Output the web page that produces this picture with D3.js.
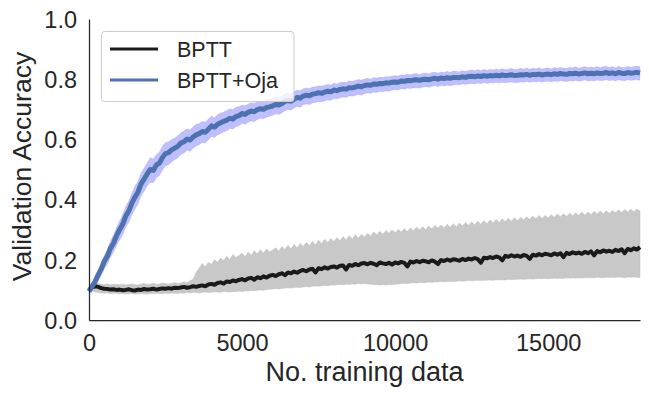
<!DOCTYPE html>
<html>
<head>
<meta charset="utf-8">
<script src="https://cdn.jsdelivr.net/npm/d3@7"></script>
<style>
  body { margin: 0; background: #fff; }
  svg { display: block; font-family: "Liberation Sans", Arial, sans-serif; }
</style>
</head>
<body>
<svg id="chart" width="649" height="396"></svg>
<script>
// one sample every 100 training examples, 0 .. 18000
var sampleStep = 100;

// BPTT+Oja: mean, upper and lower edge of the shaded band
var ojaMean = [
  .095,.112,.128,.150,.170,.195,.212,.238,.255,.280,
  .300,.318,.345,.362,.388,.408,.425,.452,.468,.485,
  .500,.497,.515,.521,.540,.553,.556,.565,.571,.577,
  .588,.592,.601,.598,.608,.615,.619,.626,.624,.634,
  .645,.641,.650,.655,.660,.664,.670,.668,.676,.679,
  .686,.683,.690,.694,.692,.699,.702,.700,.706,.708,
  .711,.716,.714,.719,.726,.729,.727,.734,.739,.737,
  .744,.747,.745,.750,.752,.755,.753,.757,.760,.758,
  .764,.762,.766,.768,.767,.772,.771,.774,.777,.775,
  .779,.781,.780,.784,.783,.786,.785,.788,.787,.790,
  .791,.790,.794,.793,.796,.795,.797,.798,.796,.799,
  .800,.798,.801,.803,.800,.804,.802,.805,.803,.806,
  .806,.805,.808,.806,.809,.810,.808,.811,.809,.812,
  .810,.812,.811,.813,.811,.814,.812,.813,.815,.812,
  .813,.815,.814,.816,.813,.816,.815,.817,.814,.816,
  .817,.815,.818,.816,.819,.817,.816,.819,.818,.820,
  .817,.819,.821,.818,.820,.818,.821,.819,.820,.822,
  .819,.821,.818,.822,.820,.819,.822,.820,.821,.823,
  .820];
var ojaUpper = [
  .102,.122,.142,.165,.190,.215,.235,.262,.282,.308,
  .330,.350,.378,.395,.422,.445,.460,.488,.505,.522,
  .540,.535,.550,.558,.578,.590,.592,.600,.605,.612,
  .622,.628,.635,.632,.642,.650,.652,.660,.657,.668,
  .678,.672,.683,.688,.691,.696,.702,.699,.707,.709,
  .714,.712,.718,.722,.719,.726,.729,.727,.733,.734,
  .737,.742,.740,.745,.752,.754,.752,.759,.764,.762,
  .768,.771,.769,.774,.775,.778,.777,.780,.783,.781,
  .787,.784,.789,.791,.789,.795,.793,.796,.799,.797,
  .801,.803,.801,.806,.804,.807,.806,.809,.808,.811,
  .812,.811,.815,.814,.817,.815,.818,.819,.816,.820,
  .821,.818,.822,.824,.820,.825,.822,.826,.823,.827,
  .826,.825,.829,.826,.829,.831,.828,.832,.829,.833,
  .830,.833,.831,.834,.831,.835,.832,.833,.836,.832,
  .833,.836,.834,.837,.833,.837,.835,.838,.834,.836,
  .838,.835,.839,.836,.840,.837,.836,.840,.838,.841,
  .837,.840,.842,.838,.841,.838,.842,.839,.841,.843,
  .839,.842,.838,.843,.840,.839,.843,.840,.842,.844,
  .841];
var ojaLower = [
  .088,.100,.112,.130,.148,.170,.185,.208,.225,.248,
  .265,.282,.308,.325,.350,.368,.385,.412,.428,.445,
  .458,.455,.472,.480,.498,.512,.516,.525,.532,.538,
  .550,.554,.564,.560,.570,.578,.582,.590,.588,.598,
  .610,.606,.615,.620,.625,.629,.636,.634,.642,.645,
  .653,.650,.657,.661,.659,.666,.670,.668,.674,.676,
  .680,.685,.683,.688,.695,.699,.697,.704,.709,.707,
  .715,.718,.716,.721,.723,.726,.724,.728,.731,.729,
  .736,.734,.738,.740,.739,.744,.743,.746,.749,.747,
  .752,.754,.753,.757,.756,.759,.758,.761,.760,.763,
  .765,.764,.768,.767,.770,.769,.771,.772,.770,.773,
  .775,.773,.776,.778,.775,.779,.777,.780,.778,.781,
  .782,.781,.784,.782,.785,.786,.784,.787,.785,.788,
  .786,.788,.787,.789,.787,.790,.788,.789,.791,.788,
  .789,.791,.790,.792,.789,.792,.791,.793,.790,.792,
  .793,.791,.794,.792,.795,.793,.792,.795,.794,.796,
  .793,.795,.797,.794,.796,.794,.797,.795,.796,.798,
  .795,.797,.794,.798,.796,.795,.798,.796,.797,.799,
  .796];

// BPTT: mean, upper and lower edge of the shaded band
var bpttMean = [
  .100,.108,.112,.110,.106,.104,.103,.101,.102,.100,
  .101,.099,.100,.102,.099,.098,.101,.100,.103,.101,
  .102,.104,.101,.103,.105,.104,.106,.104,.107,.106,
  .108,.110,.107,.109,.112,.110,.113,.115,.112,.118,
  .120,.117,.123,.125,.121,.128,.126,.131,.129,.133,
  .136,.132,.138,.140,.134,.142,.139,.145,.141,.147,
  .150,.146,.152,.155,.149,.158,.155,.161,.157,.163,
  .166,.162,.168,.170,.158,.172,.169,.175,.171,.176,
  .178,.174,.180,.181,.168,.183,.180,.186,.182,.188,
  .189,.185,.190,.187,.182,.191,.188,.186,.190,.184,
  .191,.188,.193,.190,.178,.194,.191,.196,.192,.197,
  .195,.192,.198,.194,.186,.199,.196,.201,.197,.202,
  .200,.197,.203,.199,.204,.201,.206,.202,.190,.207,
  .205,.209,.206,.211,.208,.198,.213,.210,.215,.211,
  .214,.210,.216,.213,.203,.217,.214,.219,.215,.220,
  .218,.215,.221,.217,.222,.209,.223,.219,.225,.221,
  .224,.220,.226,.222,.228,.215,.229,.225,.231,.227,
  .230,.226,.233,.229,.235,.222,.236,.232,.238,.234,
  .242];
var bpttUpper = [
  .106,.118,.124,.122,.119,.118,.120,.117,.119,.118,
  .117,.119,.116,.118,.120,.117,.116,.119,.121,.118,
  .119,.122,.118,.120,.123,.121,.119,.122,.124,.121,
  .123,.126,.124,.130,.135,.158,.172,.188,.176,.192,
  .185,.200,.192,.206,.198,.212,.201,.218,.208,.214,
  .222,.210,.226,.215,.230,.219,.233,.222,.236,.226,
  .232,.240,.228,.244,.234,.248,.236,.251,.240,.254,
  .244,.258,.247,.262,.250,.265,.254,.268,.257,.271,
  .260,.274,.263,.277,.266,.280,.269,.283,.272,.285,
  .276,.288,.279,.292,.283,.295,.285,.297,.288,.299,
  .290,.301,.292,.304,.294,.306,.296,.308,.299,.310,
  .300,.312,.302,.314,.305,.316,.306,.318,.308,.320,
  .310,.322,.312,.324,.314,.326,.316,.328,.318,.330,
  .320,.332,.322,.334,.324,.336,.326,.338,.328,.340,
  .330,.341,.332,.343,.334,.345,.336,.347,.337,.348,
  .339,.350,.341,.352,.343,.353,.344,.355,.346,.356,
  .347,.358,.349,.359,.350,.361,.352,.362,.353,.363,
  .354,.364,.356,.366,.357,.367,.359,.368,.360,.369,
  .362];
var bpttLower = [
  .094,.096,.093,.091,.090,.089,.090,.088,.089,.088,
  .087,.088,.086,.087,.088,.086,.087,.088,.087,.086,
  .088,.087,.089,.088,.087,.089,.088,.090,.089,.088,
  .090,.089,.091,.090,.092,.091,.090,.092,.093,.091,
  .092,.094,.093,.092,.095,.094,.093,.095,.094,.096,
  .095,.097,.096,.098,.097,.099,.100,.099,.101,.102,
  .103,.104,.103,.105,.106,.107,.106,.108,.109,.108,
  .110,.111,.110,.112,.113,.112,.114,.115,.114,.116,
  .116,.117,.118,.117,.119,.118,.120,.119,.121,.120,
  .121,.120,.119,.118,.117,.116,.117,.116,.118,.117,
  .119,.120,.121,.122,.121,.123,.124,.123,.125,.124,
  .125,.126,.125,.127,.126,.128,.127,.128,.129,.128,
  .129,.130,.129,.130,.131,.130,.131,.132,.131,.132,
  .132,.133,.132,.134,.133,.134,.133,.135,.134,.135,
  .135,.136,.135,.136,.137,.136,.137,.138,.137,.138,
  .137,.138,.139,.138,.139,.138,.140,.139,.140,.139,
  .140,.139,.141,.140,.141,.140,.142,.141,.140,.142,
  .141,.142,.141,.143,.142,.141,.143,.142,.143,.142,
  .141];

var xTicks = [0, 5000, 10000, 15000];
var yTicks = [0, 0.2, 0.4, 0.6, 0.8, 1.0];
var seriesNames = ["BPTT", "BPTT+Oja"];

var svg = d3.select("#chart"),
    margin = { top: 19, right: 9, bottom: 76, left: 89 },
    width = +svg.attr("width") - margin.left - margin.right,
    height = +svg.attr("height") - margin.top - margin.bottom;

var x = d3.scaleLinear().domain([0, 18000]).range([0, width]);
var y = d3.scaleLinear().domain([0, 1]).range([height, 0]);

var g = svg.append("g")
    .attr("transform", "translate(" + margin.left + "," + margin.top + ")");

function toRows(mean, lo, hi) {
  return mean.map(function (m, i) {
    return { x: i * sampleStep, m: m, lo: lo[i], hi: hi[i] };
  });
}
var bpttRows = toRows(bpttMean, bpttLower, bpttUpper);
var ojaRows = toRows(ojaMean, ojaLower, ojaUpper);

var band = d3.area()
    .x(function (d) { return x(d.x); })
    .y0(function (d) { return y(d.lo); })
    .y1(function (d) { return y(d.hi); });
var line = d3.line()
    .x(function (d) { return x(d.x); })
    .y(function (d) { return y(d.m); });

// shaded bands
g.append("path").datum(bpttRows).attr("d", band)
    .attr("fill", "#c8c8c8").attr("stroke", "#bdbdbd").attr("stroke-width", 0.5);
g.append("path").datum(ojaRows).attr("d", band)
    .attr("fill", "#0000ff").attr("fill-opacity", 0.25)
    .attr("stroke", "#0000ff").attr("stroke-opacity", 0.15).attr("stroke-width", 0.5);

// mean lines
g.append("path").datum(bpttRows).attr("d", line)
    .attr("fill", "none").attr("stroke", "#1a1a1a").attr("stroke-width", 4)
    .attr("stroke-linejoin", "round");
g.append("path").datum(ojaRows).attr("d", line)
    .attr("fill", "none").attr("stroke", "#4c72b0").attr("stroke-width", 5)
    .attr("stroke-linejoin", "round");

// axes (seaborn white style, no tick marks)
var xAxis = g.append("g")
    .attr("transform", "translate(0," + height + ")")
    .call(d3.axisBottom(x).tickValues(xTicks).tickSize(0).tickPadding(14).tickFormat(d3.format("d")));
var yAxis = g.append("g")
    .call(d3.axisLeft(y).tickValues(yTicks).tickSize(0).tickPadding(12).tickFormat(d3.format(".1f")));

[xAxis, yAxis].forEach(function (a) {
  a.select(".domain").attr("stroke", "#262626").attr("stroke-width", 1.25);
  a.selectAll("text").attr("fill", "#262626").style("font-size", "23.5px")
      .style("font-family", "'Liberation Sans', Arial, sans-serif");
});
xAxis.selectAll("text").attr("dy", null).attr("y", 31);
yAxis.selectAll("text").attr("dy", "0.35em");

// axis titles
svg.append("text")
    .attr("x", margin.left + width / 2).attr("y", 381)
    .attr("text-anchor", "middle").attr("fill", "#262626")
    .style("font-size", "27px")
    .text("No. training data");
svg.append("text")
    .attr("transform", "translate(31," + (margin.top + height / 2 - 3) + ") rotate(-90)")
    .attr("text-anchor", "middle").attr("fill", "#262626")
    .style("font-size", "26.5px")
    .text("Validation Accuracy");

// legend
var legend = svg.append("g").attr("transform", "translate(101.5,31.5)");
legend.append("rect")
    .attr("width", 192.5).attr("height", 70).attr("rx", 3)
    .attr("fill", "#fff").attr("fill-opacity", 0.8)
    .attr("stroke", "#cccccc").attr("stroke-width", 1);
var legendColors = ["#1a1a1a", "#4c72b0"];
seriesNames.forEach(function (name, i) {
  var yy = 17.5 + i * 31;
  legend.append("line")
      .attr("x1", 8.5).attr("x2", 56.5).attr("y1", yy).attr("y2", yy)
      .attr("stroke", legendColors[i]).attr("stroke-width", 3);
  legend.append("text")
      .attr("x", 75.5).attr("y", yy + 8)
      .attr("fill", "#262626").style("font-size", "21.5px")
      .text(name);
});
</script>
</body>
</html>
